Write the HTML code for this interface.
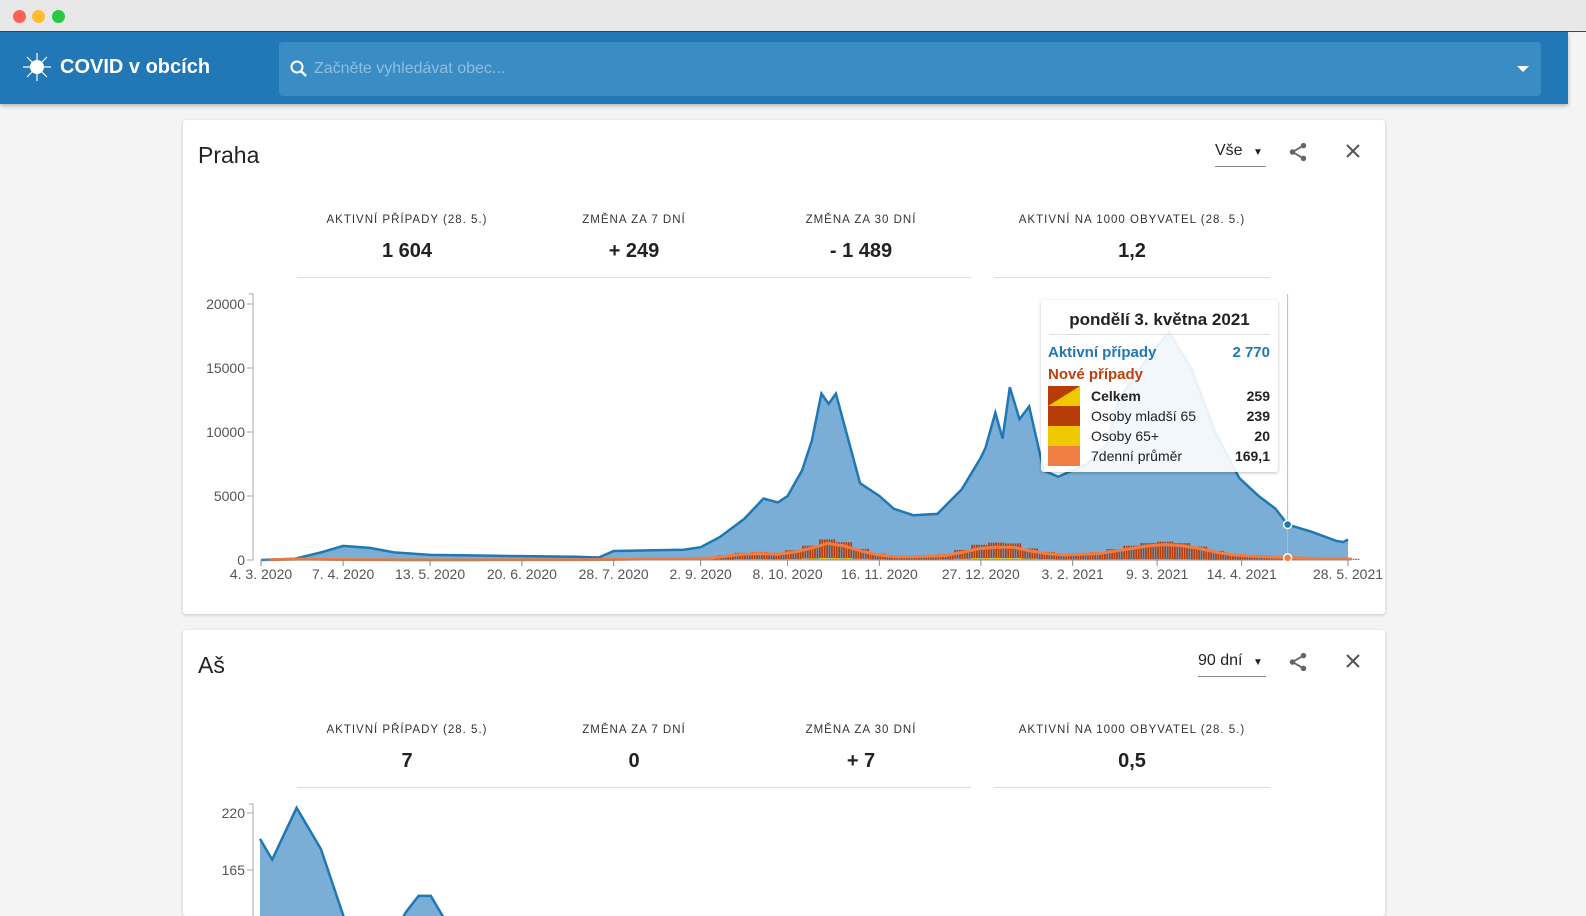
<!DOCTYPE html>
<html style="overflow:hidden"><head><meta charset="utf-8">
<style>
*{box-sizing:border-box;margin:0;padding:0}
html,body{width:1586px;height:916px;overflow:hidden}
body{background:#f4f4f4;font-family:"Liberation Sans",sans-serif;position:relative}
.titlebar{position:absolute;left:0;top:0;width:1586px;height:32px;background:#e8e8e8;border-bottom:1px solid #1b4f7a}
.dot{position:absolute;top:10px;width:13px;height:13px;border-radius:50%}
.appbar{position:absolute;left:0;top:32px;width:1568px;height:72px;background:#2277b6;box-shadow:0 2px 4px rgba(0,0,0,.25)}
.brand{position:absolute;left:60px;top:24px;color:#fff;font-size:20px;font-weight:bold}
.search{position:absolute;left:279px;top:10px;width:1262px;height:54px;background:#3a8cc5;border-radius:4px}
.search span{position:absolute;left:35px;top:18px;color:#8fbde0;font-size:16px}
.card{position:absolute;left:183px;width:1202px;background:#fff;box-shadow:0 1px 3px rgba(0,0,0,.2);border-radius:3px;overflow:hidden}
.ctitle{position:absolute;left:15px;top:22px;font-size:23px;color:#222}
.sel{position:absolute;top:22px;font-size:16px;color:#222;border-bottom:1px solid #888;height:25px}
.stat{position:absolute;width:240px;text-align:center}
.stat .l{font-size:11.5px;letter-spacing:1px;color:#333}
.stat .v{font-size:20px;font-weight:bold;color:#222;margin-top:14px}
.hr{position:absolute;height:1px;background:#ddd}
.tt{position:absolute;left:858px;top:180px;width:237px;height:172px;background:rgba(255,255,255,.9);box-shadow:0 1px 3px rgba(0,0,0,.25);border-radius:3px;font-size:14px}
.tt .row{position:absolute;left:50px;right:8px;font-size:14px;color:#222}
.tt .row b{float:right}
</style></head><body>
<div class="titlebar">
<div class="dot" style="left:13px;background:#fe5f57"></div>
<div class="dot" style="left:32px;background:#febc2e"></div>
<div class="dot" style="left:52px;background:#28c840"></div>
</div>
<div class="appbar">
<svg style="position:absolute;left:22px;top:20px" width="30" height="30" viewBox="0 0 30 30"><circle cx="15" cy="15" r="7" fill="#fff"/><g stroke="#fff" stroke-width="1.2"><line x1="15" y1="1" x2="15" y2="29"/><line x1="1" y1="15" x2="29" y2="15"/><line x1="5" y1="5" x2="25" y2="25"/><line x1="25" y1="5" x2="5" y2="25"/></g></svg>
<div class="brand">COVID v obcích</div>
<div class="search">
<svg style="position:absolute;left:10px;top:17px" width="20" height="20" viewBox="0 0 20 20"><circle cx="8" cy="8" r="5.5" stroke="#fff" stroke-width="2" fill="none"/><line x1="12" y1="12" x2="17" y2="17" stroke="#fff" stroke-width="2.4"/></svg>
<span>Začněte vyhledávat obec...</span>
<svg style="position:absolute;right:12px;top:24px" width="12" height="7"><polygon points="0,0 12,0 6,6" fill="#fff"/></svg>
</div></div>

<div class="card" style="top:120px;height:494px">
<div class="ctitle">Praha</div>
<div class="sel" style="left:1032px;width:51px">Vše <span style="font-size:10px;margin-left:6px">▼</span></div>
<svg style="position:absolute;left:1104px;top:21px" width="22" height="22" viewBox="0 0 24 24"><circle cx="18" cy="5" r="3" fill="#666"/><circle cx="6" cy="12" r="3" fill="#666"/><circle cx="18" cy="19" r="3" fill="#666"/><path d="M18 5 6 12 18 19" stroke="#666" stroke-width="2" fill="none"/></svg>
<svg style="position:absolute;left:1162px;top:23px" width="16" height="16"><path d="M2 2 14 14M14 2 2 14" stroke="#555" stroke-width="2"/></svg>
<div class="stat" style="left:104px;top:94px"><div class="l">AKTIVNÍ PŘÍPADY (28. 5.)</div><div class="v">1 604</div></div>
<div class="stat" style="left:331px;top:94px"><div class="l">ZMĚNA ZA 7 DNÍ</div><div class="v">+ 249</div></div>
<div class="stat" style="left:558px;top:94px"><div class="l">ZMĚNA ZA 30 DNÍ</div><div class="v">- 1 489</div></div>
<div class="stat" style="left:829px;top:94px"><div class="l">AKTIVNÍ NA 1000 OBYVATEL (28. 5.)</div><div class="v">1,2</div></div>
<div class="hr" style="left:114px;top:157px;width:674px"></div>
<div class="hr" style="left:811px;top:157px;width:276px"></div>
<svg id="c1" style="position:absolute;left:0;top:0" width="1202" height="494"></svg>
<div class="tt">
<div style="position:absolute;left:8px;right:8px;top:10px;text-align:center;font-size:17px;font-weight:bold;color:#222;border-bottom:1px solid #ddd;padding-bottom:4px">pondělí 3. května 2021</div>
<div style="position:absolute;left:7px;right:8px;top:44px;font-size:15px;font-weight:bold;color:#1f77b4">Aktivní případy<span style="float:right">2 770</span></div>
<div style="position:absolute;left:7px;top:66px;font-size:15px;font-weight:bold;color:#c03f0a">Nové případy</div>
<svg style="position:absolute;left:7px;top:86px" width="32" height="80"><rect width="32" height="20" fill="#eec900"/><polygon points="0,0 32,0 0,20" fill="#b83c05"/><rect y="20" width="32" height="20" fill="#b83c05"/><rect y="40" width="32" height="20" fill="#eec900"/><rect y="60" width="32" height="20" fill="#f07d44"/></svg>
<div class="row" style="top:88px;font-weight:bold">Celkem<b>259</b></div>
<div class="row" style="top:108px">Osoby mladší 65<b>239</b></div>
<div class="row" style="top:128px">Osoby 65+<b>20</b></div>
<div class="row" style="top:148px">7denní průměr<b>169,1</b></div>
</div>
</div>

<div class="card" style="top:630px;height:286px">
<div class="ctitle">Aš</div>
<div class="sel" style="left:1015px;width:68px">90 dní <span style="font-size:10px;margin-left:6px">▼</span></div>
<svg style="position:absolute;left:1104px;top:21px" width="22" height="22" viewBox="0 0 24 24"><circle cx="18" cy="5" r="3" fill="#666"/><circle cx="6" cy="12" r="3" fill="#666"/><circle cx="18" cy="19" r="3" fill="#666"/><path d="M18 5 6 12 18 19" stroke="#666" stroke-width="2" fill="none"/></svg>
<svg style="position:absolute;left:1162px;top:23px" width="16" height="16"><path d="M2 2 14 14M14 2 2 14" stroke="#555" stroke-width="2"/></svg>
<div class="stat" style="left:104px;top:94px"><div class="l">AKTIVNÍ PŘÍPADY (28. 5.)</div><div class="v">7</div></div>
<div class="stat" style="left:331px;top:94px"><div class="l">ZMĚNA ZA 7 DNÍ</div><div class="v">0</div></div>
<div class="stat" style="left:558px;top:94px"><div class="l">ZMĚNA ZA 30 DNÍ</div><div class="v">+ 7</div></div>
<div class="stat" style="left:829px;top:94px"><div class="l">AKTIVNÍ NA 1000 OBYVATEL (28. 5.)</div><div class="v">0,5</div></div>
<div class="hr" style="left:114px;top:157px;width:674px"></div>
<div class="hr" style="left:811px;top:157px;width:276px"></div>
<svg id="c2" style="position:absolute;left:0;top:0" width="1202" height="286"></svg>
</div>

<script>
const activeDays=[0,14,25,34,45,55,70,90,108,130,140,146,160,175,182,190,200,208,214,218,224,228,232,235,238,243,248,256,262,270,280,290,298,300,304,307,310,314,318,324,330,336,342,350,355,362,370,376,385,395,405,413,420,425,435,445,448,450];
const activeVals=[0,100,600,1100,950,600,400,350,300,250,200,700,750,800,1000,1800,3200,4800,4500,5000,7000,9300,13000,12200,13000,9500,6000,5000,4000,3500,3600,5500,8000,8800,11500,9500,13500,11000,12000,7000,6500,7000,7500,9000,12500,14500,16500,17800,15000,10000,6400,5000,4000,2770,2200,1500,1400,1604];
const avgWeekly=[20,50,80,60,40,30,20,15,10,10,10,10,10,15,20,20,20,20,20,25,40,60,80,100,100,120,150,300,450,500,450,600,900,1300,1100,700,400,250,250,300,350,600,900,1000,1000,700,500,400,450,500,700,900,1100,1200,1100,900,600,400,300,250,200,160,120,90,80];
const youngWeekly=[20,50,80,60,40,30,20,15,10,10,10,10,10,15,20,20,20,20,20,25,40,60,80,100,110,130,170,340,500,560,500,680,1000,1450,1250,780,450,280,280,330,400,700,1050,1200,1150,800,560,450,500,560,800,1050,1250,1350,1250,1000,680,450,330,280,220,170,130,100,90];
const oldWeekly=[2,5,8,6,4,3,2,2,1,1,1,1,1,2,2,2,2,2,2,3,4,6,8,10,12,15,20,40,60,70,60,80,120,160,140,90,50,30,30,40,50,90,140,160,150,100,70,50,50,50,60,70,80,80,70,50,35,25,20,16,14,12,10,8,7];
const yTicks1=[0,5000,10000,15000,20000];
const xTickDays=[0,34,70,108,146,182,218,256,298,336,371,406,450];
const xTickLabels=["4. 3. 2020","7. 4. 2020","13. 5. 2020","20. 6. 2020","28. 7. 2020","2. 9. 2020","8. 10. 2020","16. 11. 2020","27. 12. 2020","3. 2. 2021","9. 3. 2021","14. 4. 2021","28. 5. 2021"];
const asVals=[195,175,200,225,205,185,150,115,95,90,95,105,125,140,140,120,100,85,75,70,65,60,55,50,48,45,40,38,35,33,30,28,26,25,24,22,20,20,18,17,16,15,14,14,13,12,12,11,11,10,10,9,9,9,8,8,8,8,7,7,7,7,7,7,7,7,7,7,7,7,7,7,7,7,7,7,7,7,7,7,7,7,7,7,7,7,7,7,7,7];
const yTicks2=[165,220];

const NS="http://www.w3.org/2000/svg";
function mk(p,t,a){const e=document.createElementNS(NS,t);for(const k in a)e.setAttribute(k,a[k]);p.appendChild(e);return e;}
(function(){
const s=document.getElementById('c1');
const X=d=>78+d*(1087/450), Y=v=>440-v*0.0128;
const ax=mk(s,'path',{d:'M66 174H70V440H66',stroke:'#aaa',fill:'none'});

yTicks1.forEach(v=>{const t=mk(s,'text',{x:62,y:Y(v)+5,'text-anchor':'end','font-size':14,fill:'#555'});t.textContent=v;

mk(s,'line',{x1:64,x2:70,y1:Y(v),y2:Y(v),stroke:'#aaa'});});
let d='M'+X(0)+' '+Y(0);activeDays.forEach((dd,i)=>d+='L'+X(dd)+' '+Y(activeVals[i]));
const ar=mk(s,'path',{d:d+'L'+X(450)+' '+Y(0)+'Z',fill:'#7aaed6'});

let l='';activeDays.forEach((dd,i)=>l+=(i?'L':'M')+X(dd)+' '+Y(activeVals[i]));
const ln=mk(s,'path',{d:l,stroke:'#1f77b4','stroke-width':2.5,fill:'none'});

const dw=1087/450;
youngWeekly.forEach((v,i)=>{for(let k=0;k<7;k++){const x=X(i*7+k);
const b=mk(s,'rect',{x:x,y:Y(v+oldWeekly[i]),width:dw*0.7,height:v*0.0128,fill:'#b83c05'});

const o=mk(s,'rect',{x:x,y:Y(oldWeekly[i]),width:dw*0.7,height:oldWeekly[i]*0.0128,fill:'#eec900'});
}});
let a='';avgWeekly.forEach((v,i)=>a+=(i?'L':'M')+(X(i*7+3.5))+' '+Y(v));
const al=mk(s,'path',{d:a,stroke:'#f07d44','stroke-width':3,fill:'none'});

mk(s,'line',{x1:X(0),x2:X(450),y1:Y(0),y2:Y(0),stroke:'#888'});
xTickDays.forEach((dd,i)=>{mk(s,'line',{x1:X(dd),x2:X(dd),y1:440,y2:446,stroke:'#888'});
const t=mk(s,'text',{x:X(dd),y:459,'text-anchor':'middle','font-size':14,fill:'#555'});t.textContent=xTickLabels[i];
});
mk(s,'line',{x1:X(425),x2:X(425),y1:174,y2:440,stroke:'#bbb'});
const c1=mk(s,'circle',{cx:X(425),cy:Y(2770),r:4,fill:'#1f77b4',stroke:'#fff','stroke-width':1.5});

const c2=mk(s,'circle',{cx:X(425),cy:Y(169),r:4,fill:'#f07d44',stroke:'#fff','stroke-width':1.5});

})();
(function(){
const s=document.getElementById('c2');
const X=i=>77+i*12.2, Y=v=>183-(v-220)*1.036;
const ax=mk(s,'path',{d:'M66 174H70V300',stroke:'#aaa',fill:'none'});

yTicks2.forEach(v=>{const t=mk(s,'text',{x:62,y:Y(v)+5,'text-anchor':'end','font-size':14,fill:'#555'});t.textContent=v;

mk(s,'line',{x1:64,x2:70,y1:Y(v),y2:Y(v),stroke:'#aaa'});});
let l='';asVals.forEach((v,i)=>l+=(i?'L':'M')+X(i)+' '+Y(v));
const ar=mk(s,'path',{d:l+'L'+X(asVals.length-1)+' 420L'+X(0)+' 420Z',fill:'#7aaed6'});

const ln=mk(s,'path',{d:l,stroke:'#1f77b4','stroke-width':2.5,fill:'none'});

})();
</script>
</body></html>
